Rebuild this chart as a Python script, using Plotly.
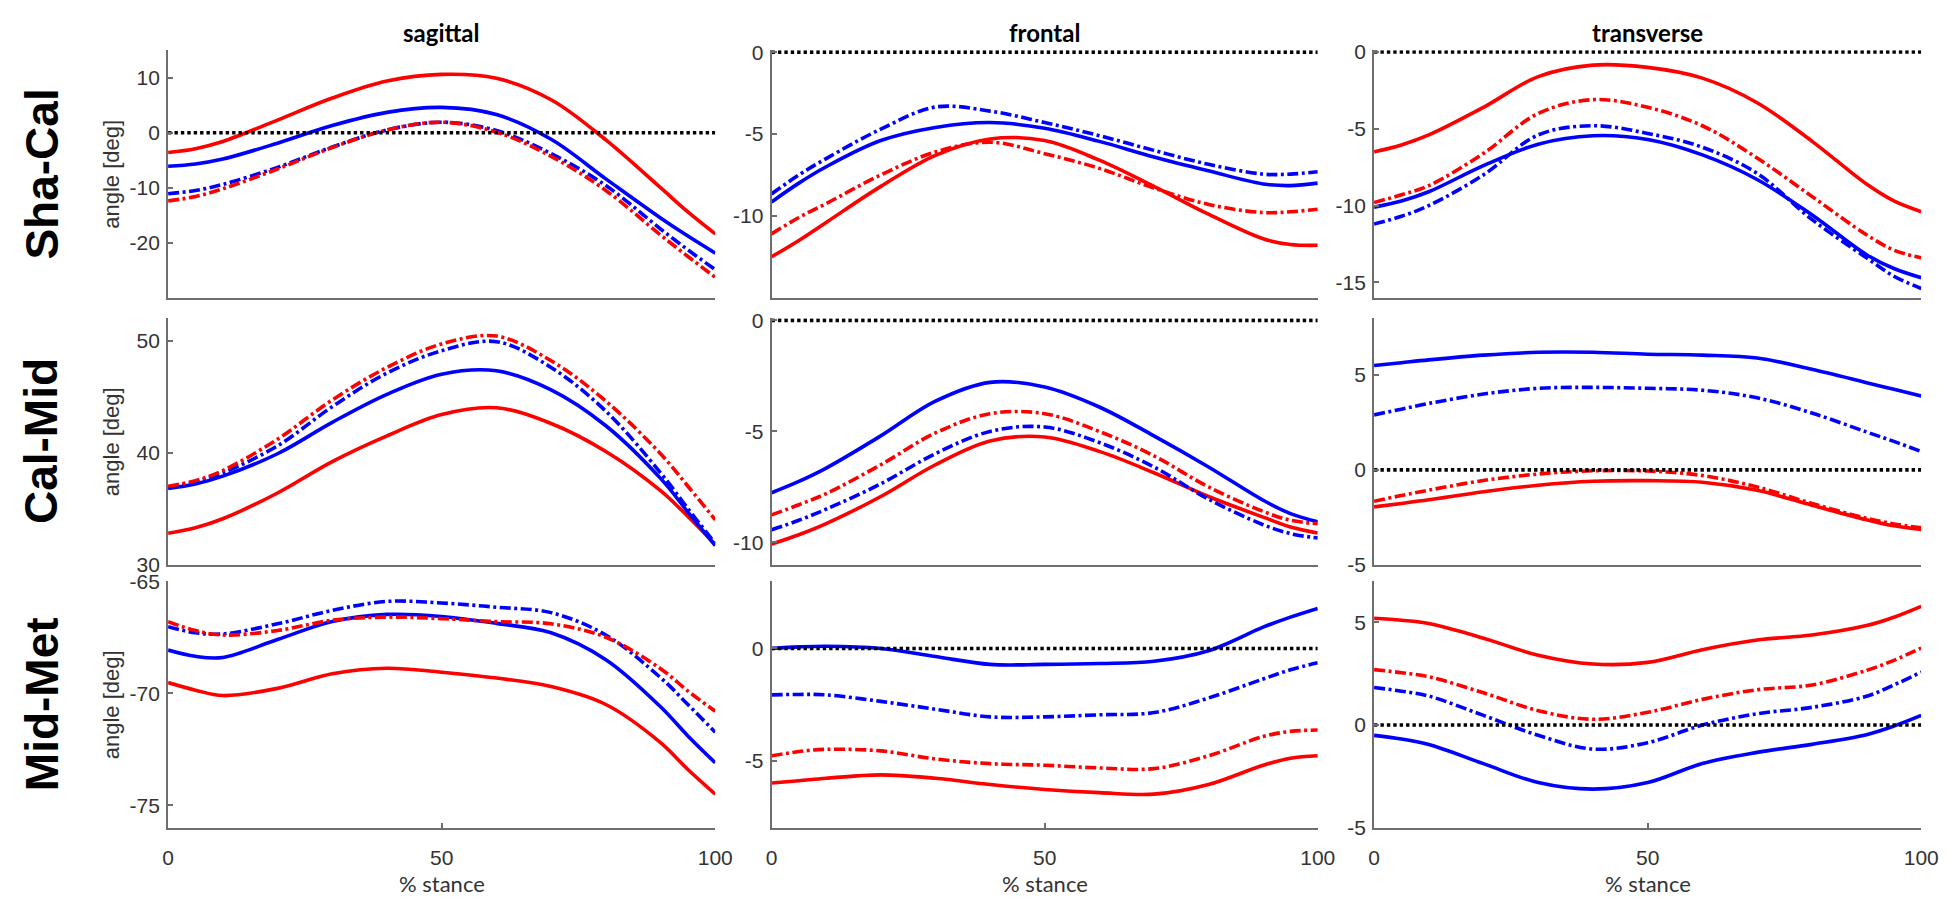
import plotly.graph_objects as go

# ---------------- data ----------------
STANCE = [0, 5, 10, 20, 30, 40, 50, 60, 70, 80, 90, 95, 100]
ZERO_X = [0, 100]
ZERO_Y = [0, 0]

COL_TITLES = ["sagittal", "frontal", "transverse"]
ROW_TITLES = ["Sha-Cal", "Cal-Mid", "Mid-Met"]
Y_LABEL = "angle [deg]"
X_LABEL = "% stance"
X_TICKS = [0, 50, 100]

# Sha-Cal sagittal
shacal_sag_red_solid = [-3.6, -2.9, -1.6, 2.3, 6.3, 9.4, 10.6, 9.9, 6.0, -1.3, -10.0, -14.4, -18.4]
shacal_sag_blue_solid = [-6.1, -5.7, -4.8, -1.9, 1.3, 3.7, 4.6, 3.3, -1.2, -8.4, -15.5, -18.8, -21.9]
shacal_sag_blue_dashdot = [-11.1, -10.5, -9.4, -6.3, -2.6, 0.5, 1.9, 0.4, -3.8, -9.6, -17.5, -21.3, -24.9]
shacal_sag_red_dashdot = [-12.4, -11.6, -10.2, -6.6, -2.7, 0.5, 1.9, 0.1, -4.3, -10.5, -18.6, -22.5, -26.3]
# Sha-Cal frontal
shacal_fro_red_solid = [-12.5, -11.5, -10.4, -8.2, -6.3, -5.3, -5.4, -6.6, -8.2, -9.9, -11.4, -11.75, -11.8]
shacal_fro_blue_solid = [-9.15, -8.0, -7.0, -5.4, -4.6, -4.3, -4.65, -5.45, -6.4, -7.25, -8.05, -8.15, -8.0]
shacal_fro_blue_dashdot = [-8.66, -7.5, -6.5, -4.7, -3.35, -3.6, -4.3, -5.1, -6.0, -6.85, -7.45, -7.45, -7.3]
shacal_fro_red_dashdot = [-11.1, -10.1, -9.25, -7.5, -6.1, -5.5, -6.2, -7.1, -8.3, -9.3, -9.8, -9.75, -9.6]
# Sha-Cal transverse
shacal_tra_red_solid = [-6.5, -6.05, -5.4, -3.6, -1.6, -0.85, -1.0, -1.7, -3.3, -5.8, -8.6, -9.7, -10.4]
shacal_tra_red_dashdot = [-9.8, -9.3, -8.7, -6.6, -4.0, -3.1, -3.6, -4.8, -6.9, -9.4, -11.9, -12.9, -13.4]
shacal_tra_blue_dashdot = [-11.2, -10.7, -10.0, -8.0, -5.4, -4.8, -5.3, -6.2, -7.9, -10.9, -13.4, -14.6, -15.4]
shacal_tra_blue_solid = [-10.1, -9.7, -9.1, -7.4, -6.0, -5.45, -5.7, -6.7, -8.3, -10.6, -13.2, -14.1, -14.7]

# Cal-Mid sagittal
calmid_sag_red_dashdot = [37.0, 37.5, 38.4, 41.2, 44.7, 47.6, 49.7, 50.4, 48.2, 44.6, 39.9, 37.0, 34.0]
calmid_sag_blue_dashdot = [36.9, 37.4, 38.2, 40.6, 44.1, 47.1, 49.1, 49.9, 47.6, 43.7, 38.2, 35.0, 31.9]
calmid_sag_blue_solid = [36.8, 37.2, 37.9, 39.9, 42.7, 45.2, 47.0, 47.3, 45.6, 42.4, 37.7, 34.7, 31.7]
calmid_sag_red_solid = [32.8, 33.3, 34.1, 36.4, 39.2, 41.5, 43.4, 44.0, 42.6, 40.1, 36.6, 34.3, 31.8]
# Cal-Mid frontal
calmid_fro_blue_solid = [-7.76, -7.25, -6.65, -5.2, -3.64, -2.79, -3.0, -3.9, -5.2, -6.6, -8.1, -8.7, -9.07]
calmid_fro_red_dashdot = [-8.76, -8.3, -7.8, -6.5, -5.07, -4.2, -4.2, -5.0, -6.1, -7.5, -8.6, -9.0, -9.15]
calmid_fro_blue_dashdot = [-9.43, -9.0, -8.5, -7.36, -6.0, -5.0, -4.8, -5.5, -6.6, -8.05, -9.2, -9.6, -9.8]
calmid_fro_red_solid = [-10.07, -9.65, -9.15, -7.93, -6.5, -5.43, -5.25, -5.9, -6.86, -7.93, -8.86, -9.3, -9.57]
# Cal-Mid transverse
calmid_tra_blue_solid = [5.5, 5.65, 5.8, 6.05, 6.2, 6.2, 6.1, 6.05, 5.9, 5.3, 4.6, 4.25, 3.9]
calmid_tra_blue_dashdot = [2.9, 3.2, 3.5, 4.0, 4.3, 4.35, 4.3, 4.2, 3.8, 3.0, 2.0, 1.5, 0.97]
calmid_tra_red_dashdot = [-1.66, -1.35, -1.07, -0.56, -0.22, -0.05, -0.06, -0.3, -0.9, -1.77, -2.55, -2.85, -3.06]
calmid_tra_red_solid = [-1.95, -1.77, -1.58, -1.15, -0.81, -0.6, -0.57, -0.65, -1.08, -1.86, -2.63, -2.95, -3.14]

# Mid-Met sagittal
midmet_sag_blue_dashdot = [-67.03, -67.3, -67.35, -66.9, -66.3, -65.9, -65.97, -66.16, -66.4, -67.4, -69.3, -70.5, -71.74]
midmet_sag_red_dashdot = [-66.8, -67.2, -67.4, -67.2, -66.74, -66.6, -66.67, -66.8, -66.9, -67.5, -68.9, -69.9, -70.8]
midmet_sag_blue_solid = [-68.07, -68.35, -68.4, -67.6, -66.8, -66.48, -66.57, -66.88, -67.3, -68.5, -70.6, -71.9, -73.1]
midmet_sag_red_solid = [-69.52, -69.86, -70.1, -69.78, -69.13, -68.88, -69.06, -69.32, -69.7, -70.5, -72.2, -73.4, -74.5]
# Mid-Met frontal
midmet_fro_blue_solid = [0.0, 0.07, 0.1, 0.0, -0.36, -0.71, -0.71, -0.67, -0.57, -0.1, 0.95, 1.4, 1.79]
midmet_fro_blue_dashdot = [-2.07, -2.05, -2.07, -2.36, -2.71, -3.05, -3.05, -2.96, -2.86, -2.21, -1.36, -0.95, -0.64]
midmet_fro_red_dashdot = [-4.79, -4.6, -4.5, -4.57, -4.93, -5.14, -5.21, -5.33, -5.36, -4.79, -3.93, -3.7, -3.64]
midmet_fro_red_solid = [-6.0, -5.9, -5.79, -5.64, -5.79, -6.07, -6.29, -6.43, -6.5, -6.07, -5.21, -4.9, -4.79]
# Mid-Met transverse
midmet_tra_red_solid = [5.2, 5.1, 4.94, 4.23, 3.4, 2.97, 3.05, 3.67, 4.14, 4.38, 4.84, 5.25, 5.78]
midmet_tra_red_dashdot = [2.7, 2.55, 2.35, 1.57, 0.7, 0.28, 0.62, 1.25, 1.72, 1.95, 2.66, 3.15, 3.75]
midmet_tra_blue_dashdot = [1.83, 1.65, 1.41, 0.47, -0.5, -1.17, -0.86, 0.0, 0.55, 0.86, 1.4, 1.95, 2.58]
midmet_tra_blue_solid = [-0.5, -0.68, -0.95, -1.88, -2.8, -3.12, -2.8, -1.87, -1.33, -0.94, -0.47, -0.05, 0.47]

# y axis ranges and ticks per panel (row, col)
Y_RANGES = [
    [[-30, 15], [-15, 0.12], [-16, 0.12]],
    [[30, 52], [-11, 0.1], [-5, 8]],
    [[-76, -65], [-8, 3], [-5, 7]],
]
Y_TICKS = [
    [[-20, -10, 0, 10], [-10, -5, 0], [-15, -10, -5, 0]],
    [[30, 40, 50], [-10, -5, 0], [-5, 0, 5]],
    [[-75, -70, -65], [-5, 0], [-5, 0, 5]],
]

# ---------------- figure ----------------
W, H = 1950, 898
RED, BLUE = "#ff0000", "#0000ff"
DASHDOT = "11px,3.5px,3px,3.5px"
LW = 3.6

panels = [
    [
        [(shacal_sag_red_solid, RED, "solid"), (shacal_sag_blue_solid, BLUE, "solid"),
         (shacal_sag_blue_dashdot, BLUE, DASHDOT), (shacal_sag_red_dashdot, RED, DASHDOT)],
        [(shacal_fro_red_solid, RED, "solid"), (shacal_fro_blue_solid, BLUE, "solid"),
         (shacal_fro_blue_dashdot, BLUE, DASHDOT), (shacal_fro_red_dashdot, RED, DASHDOT)],
        [(shacal_tra_red_solid, RED, "solid"), (shacal_tra_blue_solid, BLUE, "solid"),
         (shacal_tra_blue_dashdot, BLUE, DASHDOT), (shacal_tra_red_dashdot, RED, DASHDOT)],
    ],
    [
        [(calmid_sag_red_solid, RED, "solid"), (calmid_sag_blue_solid, BLUE, "solid"),
         (calmid_sag_blue_dashdot, BLUE, DASHDOT), (calmid_sag_red_dashdot, RED, DASHDOT)],
        [(calmid_fro_red_solid, RED, "solid"), (calmid_fro_blue_solid, BLUE, "solid"),
         (calmid_fro_blue_dashdot, BLUE, DASHDOT), (calmid_fro_red_dashdot, RED, DASHDOT)],
        [(calmid_tra_red_solid, RED, "solid"), (calmid_tra_blue_solid, BLUE, "solid"),
         (calmid_tra_blue_dashdot, BLUE, DASHDOT), (calmid_tra_red_dashdot, RED, DASHDOT)],
    ],
    [
        [(midmet_sag_red_solid, RED, "solid"), (midmet_sag_blue_solid, BLUE, "solid"),
         (midmet_sag_blue_dashdot, BLUE, DASHDOT), (midmet_sag_red_dashdot, RED, DASHDOT)],
        [(midmet_fro_red_solid, RED, "solid"), (midmet_fro_blue_solid, BLUE, "solid"),
         (midmet_fro_blue_dashdot, BLUE, DASHDOT), (midmet_fro_red_dashdot, RED, DASHDOT)],
        [(midmet_tra_red_solid, RED, "solid"), (midmet_tra_blue_solid, BLUE, "solid"),
         (midmet_tra_blue_dashdot, BLUE, DASHDOT), (midmet_tra_red_dashdot, RED, DASHDOT)],
    ],
]

# panel pixel boxes
COL_PX = [(156, 710), (767, 1320), (1377, 1931)]
ROW_PX = [(31, 285), (306, 559), (576, 829)]


def px_x(p):
    return p / W


def px_y(p):
    return 1 - p / H


def label(v):
    # reference uses a plain hyphen-minus for negative numbers
    return str(v)


fig = go.Figure()
layout = dict(
    width=W, height=H,
    margin=dict(l=0, r=0, t=0, b=0),
    paper_bgcolor="white", plot_bgcolor="white",
    showlegend=False,
)

AXIS_COLOR = "#6e6e6e"
TICK_FONT = dict(family="Liberation Sans, Arial", size=21, color="#333333")

idx = 0
for r in range(3):
    for c in range(3):
        idx += 1
        xa = "x" if idx == 1 else f"x{idx}"
        ya = "y" if idx == 1 else f"y{idx}"
        for vals, color, dash in panels[r][c]:
            fig.add_trace(go.Scatter(
                x=STANCE, y=vals, mode="lines", xaxis=xa, yaxis=ya,
                line=dict(color=color, width=LW, dash=dash, shape="spline", smoothing=1.0),
                hoverinfo="skip",
            ))
        lo, hi = Y_RANGES[r][c]
        if lo <= 0 <= hi:
            fig.add_trace(go.Scatter(
                x=ZERO_X, y=ZERO_Y, mode="lines", xaxis=xa, yaxis=ya,
                line=dict(color="black", width=3.6, dash="3.4px,3px"),
                hoverinfo="skip",
            ))
        x0, x1 = COL_PX[c]
        y0, y1 = ROW_PX[r]
        xkey = "xaxis" if idx == 1 else f"xaxis{idx}"
        ykey = "yaxis" if idx == 1 else f"yaxis{idx}"
        bottom = (r == 2)
        layout[xkey] = dict(
            domain=[px_x(x0), px_x(x1)], anchor=ya, range=[0, 100],
            showline=True, linecolor=AXIS_COLOR, linewidth=2,
            showgrid=False, zeroline=False,
            tickvals=X_TICKS if bottom else [],
            ticktext=[label(v) for v in X_TICKS] if bottom else [],
            ticks="inside" if bottom else "", ticklen=5, tickwidth=1.5, tickcolor=AXIS_COLOR,
            showticklabels=bottom, tickfont=TICK_FONT, ticklabelstandoff=10,
        )
        layout[ykey] = dict(
            domain=[px_y(y1), px_y(y0)], anchor=xa, range=Y_RANGES[r][c],
            showline=True, linecolor=AXIS_COLOR, linewidth=2,
            showgrid=False, zeroline=False,
            tickvals=Y_TICKS[r][c], ticktext=[label(v) for v in Y_TICKS[r][c]],
            ticks="inside", ticklen=5, tickwidth=1.5,
            tickcolor=AXIS_COLOR, tickfont=TICK_FONT, ticklabelstandoff=2,
        )

annotations = []
for c, title in enumerate(COL_TITLES):
    cx = (COL_PX[c][0] + COL_PX[c][1]) / 2
    annotations.append(dict(
        text=f"<b>{title}</b>", x=px_x(cx), y=px_y(13), xref="paper", yref="paper",
        showarrow=False, xanchor="center", yanchor="middle",
        font=dict(family="Lato, Carlito, sans-serif", size=24, color="black"),
    ))
    annotations.append(dict(
        text=X_LABEL, x=px_x(cx), y=px_y(886), xref="paper", yref="paper",
        showarrow=False, xanchor="center", yanchor="middle",
        font=dict(family="Lato, Carlito, sans-serif", size=22, color="#333333"),
    ))
for r, title in enumerate(ROW_TITLES):
    cy = (ROW_PX[r][0] + ROW_PX[r][1]) / 2
    annotations.append(dict(
        text=f"<b>{title}</b>", x=px_x(28), y=px_y(cy), xref="paper", yref="paper",
        showarrow=False, xanchor="center", yanchor="middle", textangle=-90,
        font=dict(family="Liberation Sans, Arial", size=46, color="black"),
    ))
    annotations.append(dict(
        text=Y_LABEL, x=px_x(99), y=px_y(cy), xref="paper", yref="paper",
        showarrow=False, xanchor="center", yanchor="middle", textangle=-90,
        font=dict(family="Liberation Sans, Arial", size=22, color="#333333"),
    ))

layout["annotations"] = annotations
fig.update_layout(**layout)
fig.write_html("out.html")
